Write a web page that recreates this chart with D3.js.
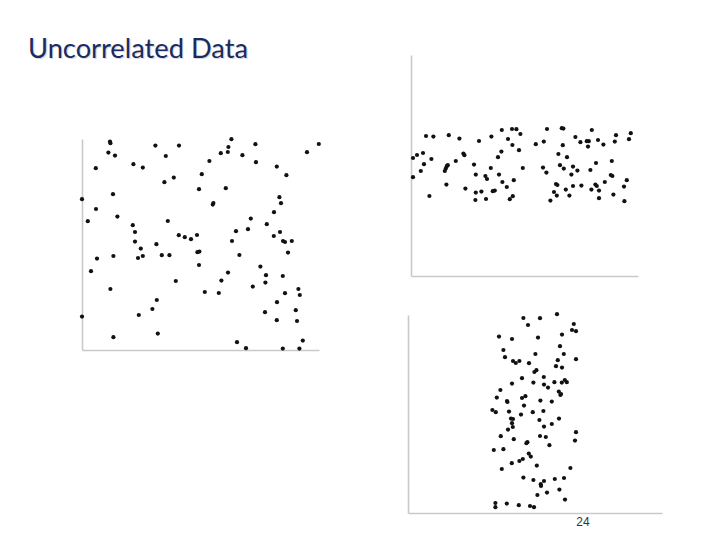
<!DOCTYPE html>
<html>
<head>
<meta charset="utf-8">
<script src="https://cdn.jsdelivr.net/npm/d3@7"></script>
<style>
  html, body { margin: 0; padding: 0; background: #ffffff; }
  svg { display: block; }
</style>
</head>
<body>
<svg id="chart" width="720" height="540"></svg>
<script>
// ---------- DATA ----------
const titleText = "Uncorrelated Data";
const pageNumber = "24";

// Panel 1: wide random cloud
const panel1 = [
  [14.0,104.2],[14.2,103.4],[36.7,102.2],[48.5,102.2],[13.2,98.7],[16.5,97.2],[41.9,97.0],
  [25.7,92.9],[6.9,90.9],[30.4,91.2],[41.2,83.9],[45.9,86.2],[58.5,80.4],[0,75.4],[15.5,77.9],
  [7.0,70.5],[2.9,64.4],[17.7,66.7],[42.9,64.5],[25.4,62.4],[26.5,59.0],[26.5,54.2],[37.2,52.9],
  [48.4,57.4],[51.4,56.4],[54.5,55.4],[57.5,57.5],[74.7,105.4],[73.2,101.5],[69.4,98.4],[72.9,99.0],
  [86.7,102.9],[80.2,97.4],[63.7,94.5],[87.0,93.9],[97.4,91.7],[102.2,87.4],[112.5,98.9],[118.4,103.0],
  [59.9,87.9],[71.9,80.9],[65.7,73.5],[65.4,72.7],[98.7,76.4],[99.5,73.4],[96.0,68.9],[84.4,65.7],
  [92.4,62.9],[83.0,60.4],[77.0,59.4],[99.0,59.0],[75.0,54.5],[95.9,57.0],[100.5,54.5],[101.5,54.0],
  [104.9,54.5],[7.5,45.7],[15.7,47.0],[29.4,50.7],[28.0,46.0],[30.4,47.0],[39.9,47.4],[43.7,47.4],
  [57.7,48.9],[58.7,49.2],[58.5,42.5],[4.5,39.4],[14.2,30.5],[46.9,34.5],[37.4,25.0],[35.2,20.5],
  [28.4,17.5],[0,16.7],[15.7,6.4],[37.9,8.2],[78.7,47.5],[103.0,48.7],[89.2,41.7],[92.0,37.4],
  [100.4,37.0],[73.0,38.7],[69.7,34.7],[91.7,33.7],[85.4,31.7],[61.4,29.0],[68.4,28.5],[108.2,30.5],
  [108.9,27.5],[101.5,28.4],[97.5,23.9],[91.5,18.9],[106.9,19.9],[97.4,14.9],[107.5,14.5],[77.5,3.9],
  [82.0,0.9],[100.4,0.7],[108.7,0.7],[110.4,4.7]
];

// Panel 2: horizontal band
const panel2 = [
  [7.5,70.0],[11.2,69.7],[18.9,70.4],[24.2,68.7],[1.0,59.0],[3.0,60.5],[6.0,61.5],[10.2,58.5],
  [6.5,55.9],[4.9,52.5],[1.0,49.4],[9.2,40.0],[16.9,52.5],[17.4,53.7],[17.9,54.9],[18.4,55.4],
  [17.7,45.7],[22.4,57.5],[26.2,61.2],[26.7,60.4],[27.2,43.7],[31.5,55.7],[32.4,50.7],[32.4,41.7],
  [32.2,38.0],[34.0,67.5],[35.2,42.2],[37.2,50.0],[38.0,48.5],[37.5,38.5],[39.9,54.0],[40.2,69.7],
  [40.9,42.4],[41.9,42.7],[43.5,59.4],[44.0,50.7],[45.4,73.0],[45.2,62.2],[45.7,47.0],[47.9,44.5],
  [48.5,68.5],[50.5,73.5],[52.7,73.4],[54.7,71.0],[50.7,65.5],[54.0,62.9],[51.4,47.9],[55.9,54.0],
  [49.4,38.4],[50.9,39.9],[62.4,65.9],[66.4,67.2],[68.0,73.5],[66.0,54.2],[67.7,51.7],[75.4,73.9],
  [76.2,73.7],[75.9,65.4],[73.7,61.0],[78.0,59.4],[74.5,55.4],[76.4,53.7],[72.5,46.0],[73.2,45.5],
  [71.5,42.0],[72.9,40.2],[69.7,37.7],[77.4,43.2],[79.2,40.2],[81.0,54.7],[83.2,52.7],[80.2,50.7],
  [81.0,45.0],[82.2,69.5],[84.7,66.9],[85.2,45.2],[87.9,67.4],[88.9,67.4],[88.5,64.7],[90.4,73.0],
  [89.7,53.0],[92.5,56.5],[90.2,43.2],[92.2,45.7],[92.9,45.0],[94.0,42.7],[94.0,38.9],[93.5,68.0],
  [96.2,65.7],[96.9,47.0],[100.4,57.5],[99.9,50.5],[100.7,50.0],[101.2,40.7],[102.5,70.4],[101.9,67.2],
  [106.5,44.7],[107.9,47.9],[106.7,37.4],[109.0,68.4],[109.9,71.4]
];

// Panel 3: vertical band
const panel3 = [
  [57.7,97.5],[66.0,97.4],[74.5,99.4],[60.0,94.0],[82.9,94.5],[82.0,91.5],[84.0,90.9],[45.5,88.2],
  [52.0,87.0],[65.0,87.7],[77.0,89.2],[76.0,83.4],[47.7,81.5],[48.5,77.9],[63.7,79.5],[77.9,79.5],
  [52.5,76.0],[53.9,75.0],[55.7,76.0],[60.5,74.9],[74.9,76.4],[84.0,76.9],[74.0,73.4],[77.0,72.7],
  [63.2,70.5],[64.2,71.4],[67.9,68.0],[57.0,67.4],[52.0,64.7],[62.7,65.2],[68.0,64.2],[70.0,62.7],
  [73.2,65.4],[76.9,65.2],[78.4,66.5],[79.4,65.4],[75.4,60.7],[76.2,59.0],[76.5,59.5],[46.2,61.5],
  [44.4,57.7],[49.5,56.0],[49.7,55.5],[57.0,57.5],[58.7,58.4],[66.2,56.2],[71.9,55.7],[58.0,53.7],
  [42.2,51.5],[43.9,50.4],[50.5,50.7],[56.5,49.2],[62.4,50.4],[67.7,51.0],[51.5,47.2],[52.5,47.0],
  [52.0,44.9],[52.4,43.0],[50.0,41.7],[65.7,46.5],[68.0,43.2],[71.9,44.5],[75.5,47.2],[46.4,38.4],
  [52.9,36.9],[59.7,35.4],[59.2,34.9],[66.0,38.5],[68.9,38.0],[70.7,33.9],[84.0,40.4],[83.5,36.2],
  [42.9,31.5],[47.7,31.9],[60.4,29.7],[61.4,28.2],[55.7,26.0],[57.4,27.0],[51.9,24.9],[64.4,23.7],
  [46.9,22.0],[81.2,22.5],[57.7,17.7],[62.7,16.5],[68.0,16.0],[66.4,14.4],[66.5,13.5],[73.4,17.0],
  [78.0,17.5],[64.7,9.0],[69.5,10.2],[75.7,11.7],[78.5,6.7],[43.7,5.0],[43.7,2.9],[49.4,4.7],
  [55.4,3.9],[61.0,3.5],[63.0,2.9]
];

const xDomains = [[0,118.5],[0,113.5],[0,127]];
const yDomains = [[0,105.5],[0,110.5],[0,99]];

// ---------- LAYOUT ----------
const svg = d3.select("#chart");
const panels = [
  { data: panel1, xr: [82, 319], yr: [350, 139] },
  { data: panel2, xr: [411, 638], yr: [276, 55] },
  { data: panel3, xr: [408, 662], yr: [513, 315] }
];

// title with a faint shadow, as in the slide
[["#d5d8e2", 1.2], ["#1c2b5e", 0]].forEach(([c, off]) => {
  svg.append("text")
    .attr("x", 28 + off).attr("y", 58 + off)
    .attr("font-family", "Lato, 'Open Sans', sans-serif")
    .attr("font-size", 26)
    .attr("textLength", 220)
    .attr("lengthAdjust", "spacingAndGlyphs")
    .attr("fill", c)
    .text(titleText);
});

panels.forEach((p, i) => {
  const x = d3.scaleLinear().domain(xDomains[i]).range(p.xr);
  const y = d3.scaleLinear().domain(yDomains[i]).range(p.yr);
  const g = svg.append("g");

  const yAxis = d3.axisLeft(y).tickValues([]).tickSizeOuter(0);
  const xAxis = d3.axisBottom(x).tickValues([]).tickSizeOuter(0);
  g.append("g").attr("transform", `translate(${p.xr[0]},0)`).call(yAxis)
    .select(".domain").attr("stroke", "#c9c9c9").attr("stroke-width", 1.6);
  g.append("g").attr("transform", `translate(0,${p.yr[0]})`).call(xAxis)
    .select(".domain").attr("stroke", "#c9c9c9").attr("stroke-width", 1.6);

  g.selectAll("circle").data(p.data).enter().append("circle")
    .attr("cx", d => x(d[0]))
    .attr("cy", d => y(d[1]))
    .attr("r", 2.1)
    .attr("fill", "#111");
});

svg.append("text")
  .attr("x", 583).attr("y", 526)
  .attr("text-anchor", "middle")
  .attr("font-family", "'Liberation Sans', Arial, sans-serif")
  .attr("font-size", 12)
  .attr("fill", "#333")
  .text(pageNumber);
</script>
</body>
</html>
